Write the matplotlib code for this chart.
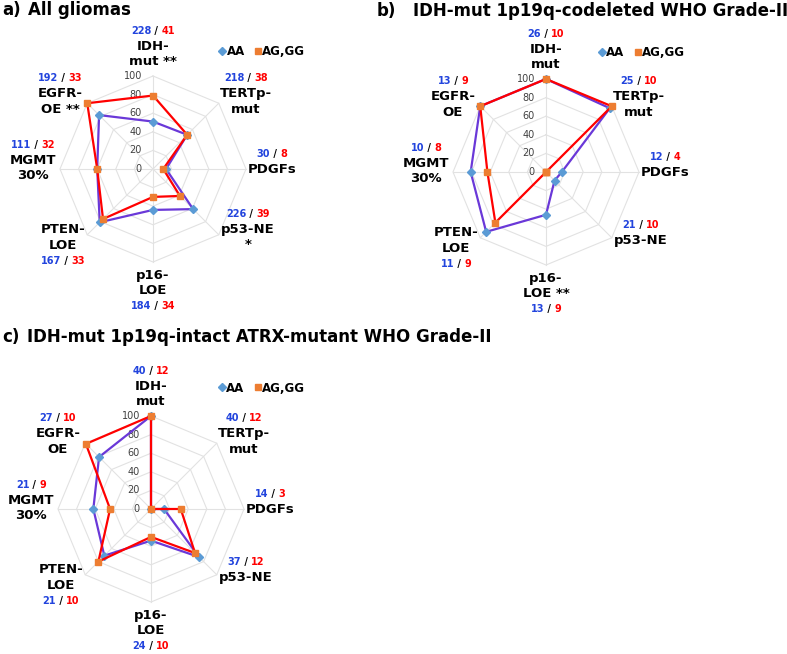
import numpy as np
import matplotlib
matplotlib.use('Agg')
import matplotlib.pyplot as plt
from matplotlib.lines import Line2D
from matplotlib.offsetbox import TextArea, HPacker, AnnotationBbox

# axes order, clockwise from top
categories = ['IDH', 'TERTp', 'PDGFs', 'p53', 'p16', 'PTEN', 'MGMT', 'EGFR']
ticks = [0, 20, 40, 60, 80, 100]

# a) All gliomas
a_labels = ['IDH-\nmut **', 'TERTp-\nmut', 'PDGFs', 'p53-NE\n*', 'p16-\nLOE',
            'PTEN-\nLOE', 'MGMT\n30%', 'EGFR-\nOE **']
a_n_aa = [228, 218, 30, 226, 184, 167, 111, 192]
a_n_ag = [41, 38, 8, 39, 34, 33, 32, 33]
a_aa = [51, 52, 14, 61, 44, 81, 60, 82]
a_ag = [79, 52, 11, 41, 30, 76, 60, 100]

# b) IDH-mut 1p19q-codeleted WHO Grade-II
b_labels = ['IDH-\nmut', 'TERTp-\nmut', 'PDGFs', 'p53-NE', 'p16-\nLOE **',
            'PTEN-\nLOE', 'MGMT\n30%', 'EGFR-\nOE']
b_n_aa = [26, 25, 12, 21, 13, 11, 10, 13]
b_n_ag = [10, 10, 4, 10, 9, 9, 8, 9]
b_aa = [100, 97, 17, 13, 46, 91, 81, 100]
b_ag = [100, 100, 0, 0, 0, 77, 63, 100]

# c) IDH-mut 1p19q-intact ATRX-mutant WHO Grade-II
c_labels = ['IDH-\nmut', 'TERTp-\nmut', 'PDGFs', 'p53-NE', 'p16-\nLOE',
            'PTEN-\nLOE', 'MGMT\n30%', 'EGFR-\nOE']
c_n_aa = [40, 40, 14, 37, 24, 21, 21, 27]
c_n_ag = [12, 12, 3, 12, 10, 10, 9, 10]
c_aa = [100, 0, 14, 73, 34, 71, 62, 79]
c_ag = [100, 0, 32, 67, 30, 80, 44, 99]

# label block centres (in value units) and whether counts sit above the text
label_pos = [(0, 132), (100, 81), (128, 8), (102, -65), (0, -131),
             (-97, -82), (-129, 9), (-100, 81)]
nums_top = [True, True, True, True, False, False, True, True]

W, H = 787, 654
R_PX = 93.0
BLUE = '#2244DD'
RED = '#FF0000'
GRID = '#E2E2E2'

fig = plt.figure(figsize=(W / 100, H / 100), dpi=100)
theta = np.linspace(0, 2 * np.pi, len(categories), endpoint=False)


def radar(cx, cy, labels, n_aa, n_ag, aa, ag, leg_xy):
    aw, ah = 400, 360
    ax = fig.add_axes([(cx - aw / 2) / W, 1 - (cy + ah / 2) / H, aw / W, ah / H])
    s = 100 / R_PX
    ax.set_xlim(-aw / 2 * s, aw / 2 * s)
    ax.set_ylim(-ah / 2 * s, ah / 2 * s)
    ax.axis('off')

    # octagon grid + spokes
    tc = np.append(theta, theta[0])
    for r in ticks[1:]:
        ax.plot(r * np.sin(tc), r * np.cos(tc), color=GRID, lw=0.8, zorder=1)
    for t in theta:
        ax.plot([0, 100 * np.sin(t)], [0, 100 * np.cos(t)], color=GRID, lw=0.8, zorder=1)
    for r in ticks:
        ax.text(-12, r, str(r), ha='right', va='center', fontsize=7, color='#404040', zorder=2)

    v = np.append(aa, aa[0])
    ax.plot(v * np.sin(tc), v * np.cos(tc), color='#6A38D8', lw=1.6, zorder=3)
    ax.plot(v[:-1] * np.sin(theta), v[:-1] * np.cos(theta), ls='none', marker='D',
            color='#5B9BD5', ms=4.5, zorder=4)
    v = np.append(ag, ag[0])
    ax.plot(v * np.sin(tc), v * np.cos(tc), color=RED, lw=1.6, zorder=5)
    ax.plot(v[:-1] * np.sin(theta), v[:-1] * np.cos(theta), ls='none', marker='s',
            color='#ED7D31', ms=4.5, zorder=6)

    sp = 16.5
    for i, lab in enumerate(labels):
        lines = lab.split('\n')
        lines = ['#N'] + lines if nums_top[i] else lines + ['#N']
        x, yc = label_pos[i]
        y0 = yc + (len(lines) - 1) / 2 * sp
        for j, line in enumerate(lines):
            y = y0 - j * sp
            if line == '#N':
                prop = dict(fontsize=7, weight='bold')
                box = HPacker(children=[
                    TextArea(str(n_aa[i]), textprops=dict(color=BLUE, **prop)),
                    TextArea(' / ', textprops=dict(color='black', **prop)),
                    TextArea(str(n_ag[i]), textprops=dict(color=RED, **prop))],
                    pad=0, sep=0, align='baseline')
                ab = AnnotationBbox(box, (x, y), xycoords='data', frameon=False,
                                    box_alignment=(0.5, 0.5), pad=0)
                ax.add_artist(ab)
            else:
                ax.text(x, y, line, ha='center', va='center', fontsize=9.5,
                        weight='bold', color='black')

    handles = [Line2D([], [], ls='none', marker='D', color='#5B9BD5', ms=4),
               Line2D([], [], ls='none', marker='s', color='#ED7D31', ms=4)]
    ax.legend(handles, ['AA', 'AG,GG'], ncol=2, frameon=False, loc='center left',
              bbox_to_anchor=leg_xy, bbox_transform=ax.transData,
              handlelength=0.4, handletextpad=0.15, columnspacing=0.9,
              borderpad=0, borderaxespad=0, prop={'weight': 'bold', 'size': 8.5})
    return ax


radar(153, 169, a_labels, a_n_aa, a_n_ag, a_aa, a_ag, (72, 126))
radar(546, 172, b_labels, b_n_aa, b_n_ag, b_aa, b_ag, (58, 128))
radar(151, 509, c_labels, c_n_aa, c_n_ag, c_aa, c_ag, (74, 130))


def title(x, y, s):
    fig.text(x / W, 1 - y / H, s, ha='left', va='baseline', fontsize=12, weight='bold')


title(2, 15, 'a)')
title(28, 15, 'All gliomas')
title(377, 16.5, 'b)')
title(413, 16.5, 'IDH-mut 1p19q-codeleted WHO Grade-II')
title(2, 342, 'c)')
title(27, 342, 'IDH-mut 1p19q-intact ATRX-mutant WHO Grade-II')

fig.savefig('out.png', dpi=100)
